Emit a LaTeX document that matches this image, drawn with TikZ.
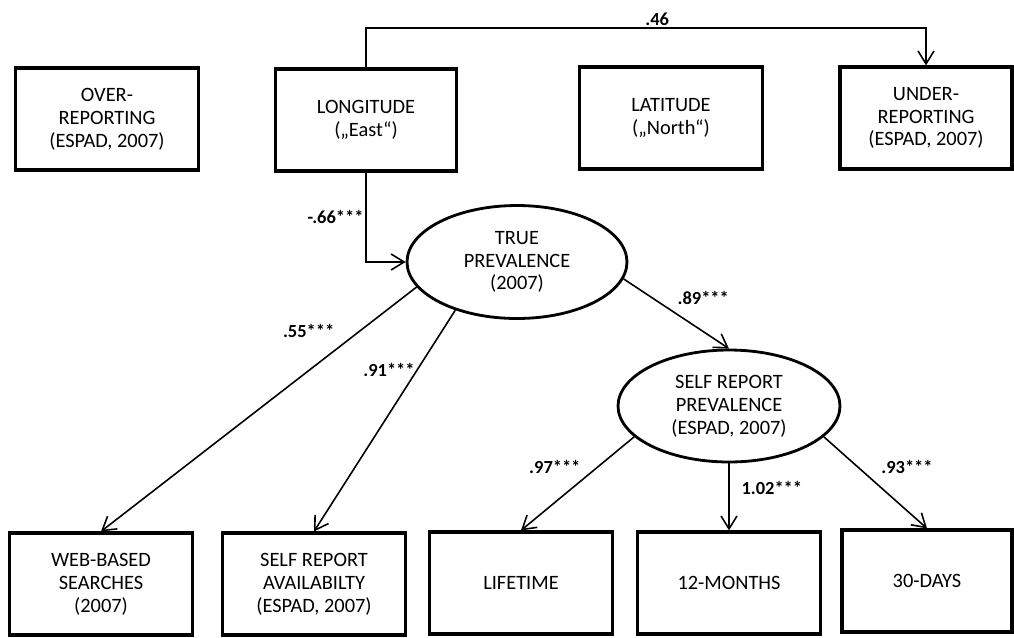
\documentclass[tikz,border=0pt]{standalone}
\usepackage{fontspec}
\setmainfont{Carlito}
\usetikzlibrary{positioning,shapes.geometric,arrows.meta}

\begin{document}
\begin{tikzpicture}[x=0.02cm, y=-0.02cm, line width=0.9pt,
    bnode/.style={draw, line width=1.8pt, minimum width=3.66cm, minimum height=2.04cm, align=center, font=\fontsize{11.6}{13}\selectfont},
    enode/.style={draw, ellipse, line width=1.6pt, minimum width=4.4cm, minimum height=2.26cm, inner sep=0pt, align=center, font=\fontsize{11.6}{13}\selectfont},
    coef/.style={font=\fontsize{10.5}{12}\selectfont\bfseries, inner sep=1pt},
    >={Straight Barb[length=2.6mm,width=3.2mm]}]
    \useasboundingbox (0,0) rectangle (1014,637);

    \node[bnode] (over) at (107,119) {OVER-\\REPORTING\\(ESPAD, 2007)};
    \node[bnode, minimum width=3.62cm] (lon) at (366,120) {LONGITUDE\\(„East“)};
    \node[bnode] (lat) at (671,118) {LATITUDE\\(„North“)};
    \node[bnode, minimum width=3.44cm] (under) at (926,118) {UNDER-\\REPORTING\\(ESPAD, 2007)};

    \node[enode] (true) at (517,262) {TRUE\\PREVALENCE\\(2007)};
    \node[enode, minimum width=4.44cm, minimum height=2.24cm] (srp) at (729,406) {SELF REPORT\\PREVALENCE\\(ESPAD, 2007)};

    \node[bnode] (web) at (101,584) {WEB-BASED\\SEARCHES\\(2007)};
    \node[bnode] (avail) at (314,584) {SELF REPORT\\AVAILABILTY\\(ESPAD, 2007)};
    \node[bnode] (life) at (521,583) {LIFETIME};
    \node[bnode] (mon) at (729,583) {12-MONTHS};
    \node[bnode, minimum width=3.4cm] (days) at (927,581) {30-DAYS};

    \coordinate (top) at (0,28);
    \draw[->] (lon.north) -- (lon.north |- top) -| node[coef, pos=.26, above] (c46) {.46} (under.north);
    \draw[->] (lon.south) |- node[coef, pos=.25, left] (c66) {-.66***} (true.west);

    \draw[->] (true.194) -- node[coef, pos=.18, left=4.6mm] (c55) {.55***} (web.north);
    \draw[->] (true.218) -- node[coef, pos=.27, left] (c91) {.91***} (avail.north);
    \draw[->] (true.351) -- node[coef, pos=.28, right=4.4mm] (c89) {.89***} (srp.north);

    \draw[->] (srp.198) -- node[coef, pos=.32, left=3mm] (c97) {.97***} (life.north);
    \draw[->] (srp.south) -- node[coef, pos=.37, right=2mm] (c102) {1.02***} (mon.north);
    \draw[->] (srp.342) -- node[coef, pos=.33, right=4.2mm] (c93) {.93***} (days.north);
\end{tikzpicture}
\end{document}
